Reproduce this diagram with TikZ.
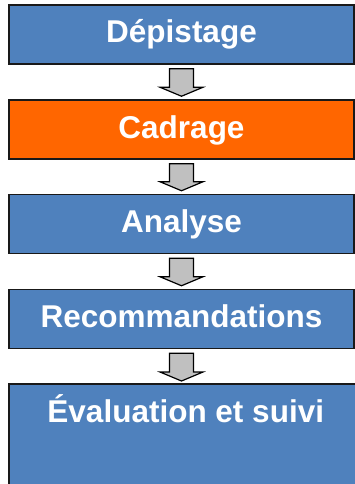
\documentclass[tikz,border=0pt]{standalone}
\usepackage{fontspec}
\setmainfont{Liberation Sans}
\usetikzlibrary{calc,positioning}
\definecolor{stepblue}{HTML}{4F81BD}
\definecolor{steporange}{HTML}{FF6600}
\definecolor{arrowgray}{HTML}{C0C0C0}
\tikzset{
  stepbox/.style={draw=black!90,line width=1.5pt,fill=stepblue,text=white,
    font=\fontsize{31.5}{36}\selectfont\bfseries,inner xsep=0pt,inner ysep=0pt,
    minimum width=345pt,text height=38pt,text depth=21pt},
  flowarrow/.style={draw=black,fill=arrowgray,line width=1.2pt,line join=miter}
}
\begin{document}
\begin{tikzpicture}[x=1pt,y=1pt]
\useasboundingbox (0,0) rectangle (355,-484);
\clip (0,0) rectangle (355,-484);
\coordinate (dep) at (181.5,-34.5);
\coordinate (cad) at (181.5,-129.5);
\coordinate (ana) at (181.5,-224);
\coordinate (reco) at (181.5,-319);
\coordinate (eval) at (9,-384);

\node[stepbox] (dep) at (dep){Dépistage};
\node[stepbox,fill=steporange] (cad) at (cad){Cadrage};
\node[stepbox] (ana) at (ana){Analyse};
\node[stepbox] (reco) at (reco){Recommandations};
% last box runs off the page: only its left and top edges show
\node[stepbox,draw=none,anchor=north west,minimum width=352pt,text depth=110pt] (eval) at (eval){Évaluation et suivi};
\draw[black!90,line width=1.5pt] (eval.south west) -- (eval.north west) -- (eval.north east);

\foreach \a/\b in {dep/cad,cad/ana,ana/reco,reco/eval}
  \draw[flowarrow] ($(\a.south)+(-12,-4)$) -- ($(\a.south)+(12,-4)$)
    -- ($(\a.south |- \b.north)+(12,12)$) -- ($(\a.south |- \b.north)+(21.5,12)$)
    -- ($(\a.south |- \b.north)+(0,3)$) -- ($(\a.south |- \b.north)+(-21.5,12)$)
    -- ($(\a.south |- \b.north)+(-12,12)$) -- cycle;

\end{tikzpicture}
\end{document}
